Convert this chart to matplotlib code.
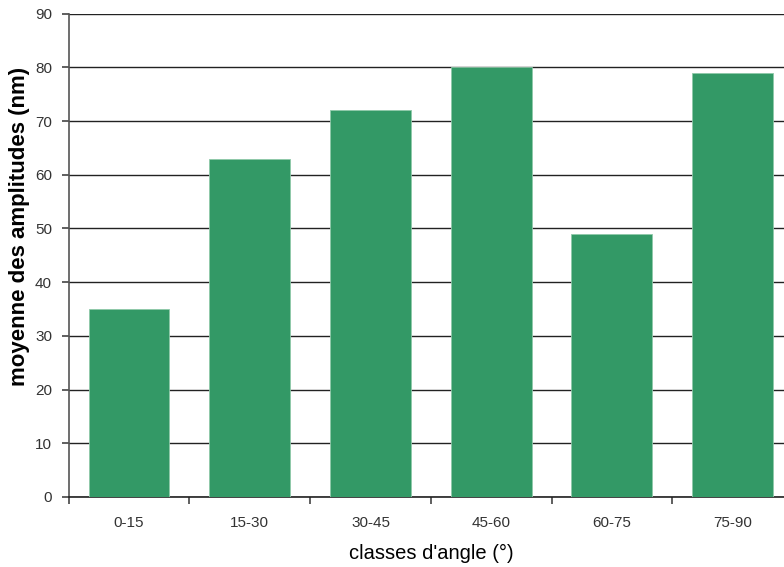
import matplotlib
matplotlib.use("Agg")
import matplotlib.pyplot as plt
import numpy as np

categories = ["0-15", "15-30", "30-45", "45-60", "60-75", "75-90"]
amplitudes = [35, 63, 72, 80, 49, 79]
y_ticks = list(range(0, 91, 10))

plt.rcParams['font.family'] = ['Liberation Sans', 'DejaVu Sans']

fig = plt.figure(figsize=[7.84, 5.67], dpi=100)
# the plot area runs a little past the right edge of the picture, as in the original
ax = fig.add_axes([0.0876, 0.1235, 1.0115 - 0.0876, 0.976 - 0.1235])

x = np.arange(len(categories))
ax.bar(x, amplitudes, width=0.67, color="#339966", edgecolor="#8fc9a9", linewidth=0.6, zorder=3)

ax.set_xlim(-0.5, len(categories) - 0.5)
ax.set_ylim(0, 90)
ax.set_yticks(y_ticks)
ax.set_yticklabels([str(v) for v in y_ticks], fontsize=11, color="#333333")
ax.yaxis.grid(True, color="#222222", linewidth=1.0, zorder=0)

# category labels in the middle, tick marks on the boundaries
ax.set_xticks(x)
ax.set_xticklabels(categories, fontsize=11, color="#333333")
ax.tick_params(axis="x", which="major", length=0, pad=14)
ax.set_xticks(np.arange(len(categories) + 1) - 0.5, minor=True)
ax.tick_params(axis="x", which="minor", length=5, width=1.2, color="#444444", direction="out")
ax.tick_params(axis="y", length=5, width=1.2, color="#444444", direction="out", pad=7)

for side in ["top", "right"]:
    ax.spines[side].set_visible(False)
ax.spines["left"].set_color("#555555")
ax.spines["left"].set_linewidth(1.2)
ax.spines["bottom"].set_color("#222222")
ax.spines["bottom"].set_linewidth(1.2)

ax.set_xlabel("classes d'angle (°)", fontsize=14.5, labelpad=10)
# y title sits a bit above the middle of the axis in the original
fig.text(20 / 784, 1 - 226 / 567, "moyenne des amplitudes (nm)", rotation=90,
         fontsize=16, fontweight="bold", ha="center", va="center")

fig.savefig("out.png", dpi=100)
